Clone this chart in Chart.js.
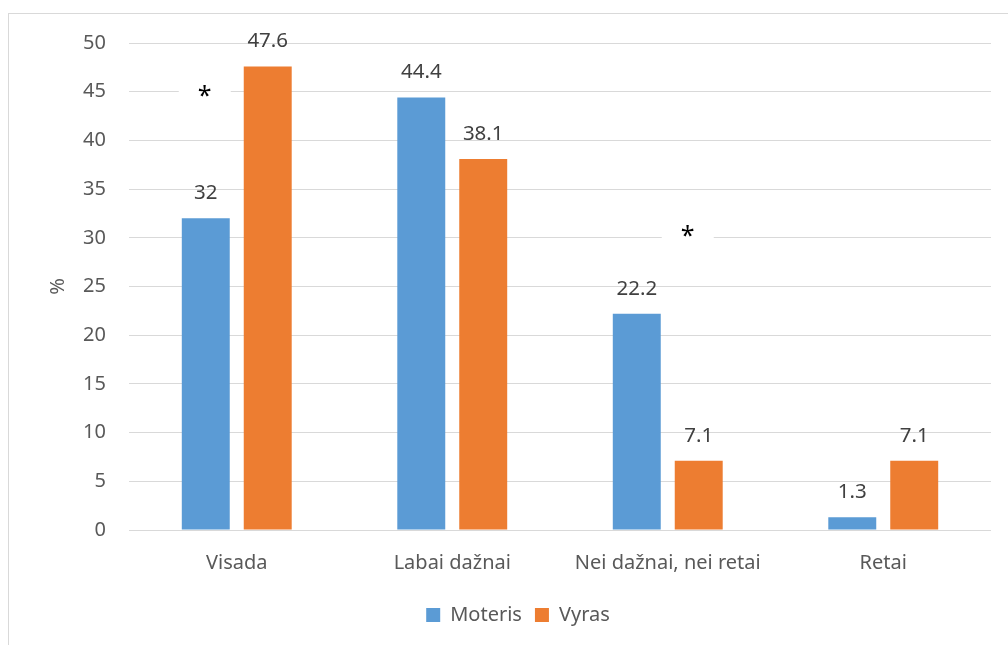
<!DOCTYPE html>
<html>
<head>
<meta charset="utf-8">
<script src="https://cdn.jsdelivr.net/npm/chart.js@4.4.1/dist/chart.umd.min.js"></script>
<style>
  html, body { margin: 0; padding: 0; background: #fff; }
  #wrap { width: 1008px; height: 645px; position: relative; }
</style>
</head>
<body>
<div id="wrap"><canvas id="bar_graph"></canvas></div>
<script>
var categories = ["Visada", "Labai dažnai", "Nei dažnai, nei retai", "Retai"];
var moteris = [32, 44.4, 22.2, 1.3];
var vyras = [47.6, 38.1, 7.1, 7.1];
var yTicks = [0, 5, 10, 15, 20, 25, 30, 35, 40, 45, 50];

// significance marks: category index, value level, shift from category centre (px)
var starCategory = [0, 2];
var starValue = [44.9, 30.5];
var starShift = [-32, 20];

var fontFamily = "'Noto Sans', 'Open Sans', sans-serif";

// thin frame around the whole chart
const frame = {
  id: "frame",
  beforeDraw(chart) {
    const c = chart.ctx;
    c.save();
    c.strokeStyle = "#d9d9d9";
    c.lineWidth = 1;
    c.strokeRect(8.5, 13.5, 1100, 700);
    c.restore();
  }
};

// value labels above each bar + the asterisks
const labels = {
  id: "labels",
  afterDatasetsDraw(chart) {
    const c = chart.ctx;
    c.save();
    c.font = "20.5px " + fontFamily;
    c.fillStyle = "#404040";
    c.textAlign = "center";
    c.textBaseline = "middle";
    chart.data.datasets.forEach((ds, i) => {
      chart.getDatasetMeta(i).data.forEach((bar, j) => {
        c.fillText(String(ds.data[j]), bar.x, bar.y - 25);
      });
    });

    const xs = chart.scales.x, ys = chart.scales.y;
    for (let k = 0; k < starCategory.length; k++) {
      const x = xs.getPixelForValue(starCategory[k]) + starShift[k];
      const y = ys.getPixelForValue(starValue[k]);
      c.fillStyle = "#fff";
      c.fillRect(x - 26, y - 10, 52, 20);
      c.fillStyle = "#000";
      c.font = "25px " + fontFamily;
      c.fillText("*", x, y + 4);
    }
    c.restore();
  }
};

new Chart(document.getElementById("bar_graph"), {
  type: "bar",
  data: {
    labels: categories,
    datasets: [
      { label: "Moteris", data: moteris, backgroundColor: "#5b9bd5" },
      { label: "Vyras", data: vyras, backgroundColor: "#ed7d31" }
    ]
  },
  options: {
    responsive: true,
    maintainAspectRatio: false,
    animation: false,
    categoryPercentage: 0.575,
    barPercentage: 0.774,
    layout: { padding: { left: 45, right: 17, top: 43, bottom: 10 } },
    plugins: {
      legend: {
        position: "bottom",
        labels: {
          boxWidth: 14,
          boxHeight: 14,
          padding: 13,
          color: "#595959",
          font: { family: fontFamily, size: 20 }
        }
      },
      tooltip: { enabled: false }
    },
    scales: {
      x: {
        grid: { display: false },
        border: { display: false },
        ticks: { color: "#595959", padding: 13, font: { family: fontFamily, size: 20 } },
        afterFit(scale) { scale.height = 62; }
      },
      y: {
        min: 0,
        max: 50,
        afterBuildTicks(scale) { scale.ticks = yTicks.map(v => ({ value: v })); },
        grid: { color: "#d9d9d9", drawTicks: false },
        border: { display: false },
        ticks: { color: "#595959", padding: 23, font: { family: fontFamily, size: 20 } },
        title: {
          display: true,
          text: "%",
          color: "#595959",
          padding: { top: 1 },
          font: { family: fontFamily, size: 20 }
        },
        afterFit(scale) { scale.width = 84; }
      }
    }
  },
  plugins: [frame, labels]
});
</script>
</body>
</html>
